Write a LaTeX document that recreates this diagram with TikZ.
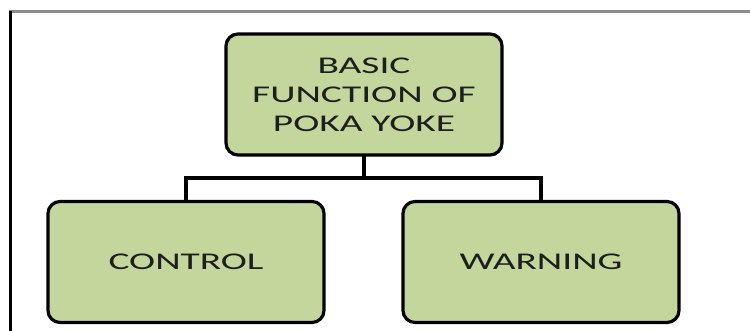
\documentclass[tikz,border=0pt]{standalone}
\usepackage{fontspec}
\setmainfont{Carlito}[FakeStretch=1.64]
\definecolor{boxgreen}{HTML}{C3D69B}
\definecolor{framegray}{HTML}{8C8C8C}
\definecolor{textdark}{HTML}{1E1E1E}
\begin{document}
\begin{tikzpicture}[x=0.75pt,y=-0.75pt,
  gbox/.style={draw=black,line width=2.4pt,fill=boxgreen,rounded corners=9pt,
    minimum width=276*0.75pt,minimum height=121*0.75pt,align=center,inner sep=0pt,
    font=\fontsize{18}{21.75}\selectfont,text=textdark},
  link/.style={line width=2.4pt,line cap=rect}]
\useasboundingbox (0,0) rectangle (750,331);
\fill[white] (0,0) rectangle (750,331);
\draw[framegray,line width=2.4pt] (9,11.5) -- (750,11.5);
\draw[black,line width=2.2pt] (10.5,11) -- (10.5,331);
\node[gbox] (top) at (364,94.5) {BASIC\\FUNCTION OF\\POKA YOKE};
\node[gbox] (ctl) at (186,262) {CONTROL};
\node[gbox] (wrn) at (541,262) {WARNING};
\coordinate (j) at (364,178);
\draw[link] (top.south) -- (j);
\draw[link] (ctl.north) |- (j) -| (wrn.north);
\end{tikzpicture}
\end{document}
